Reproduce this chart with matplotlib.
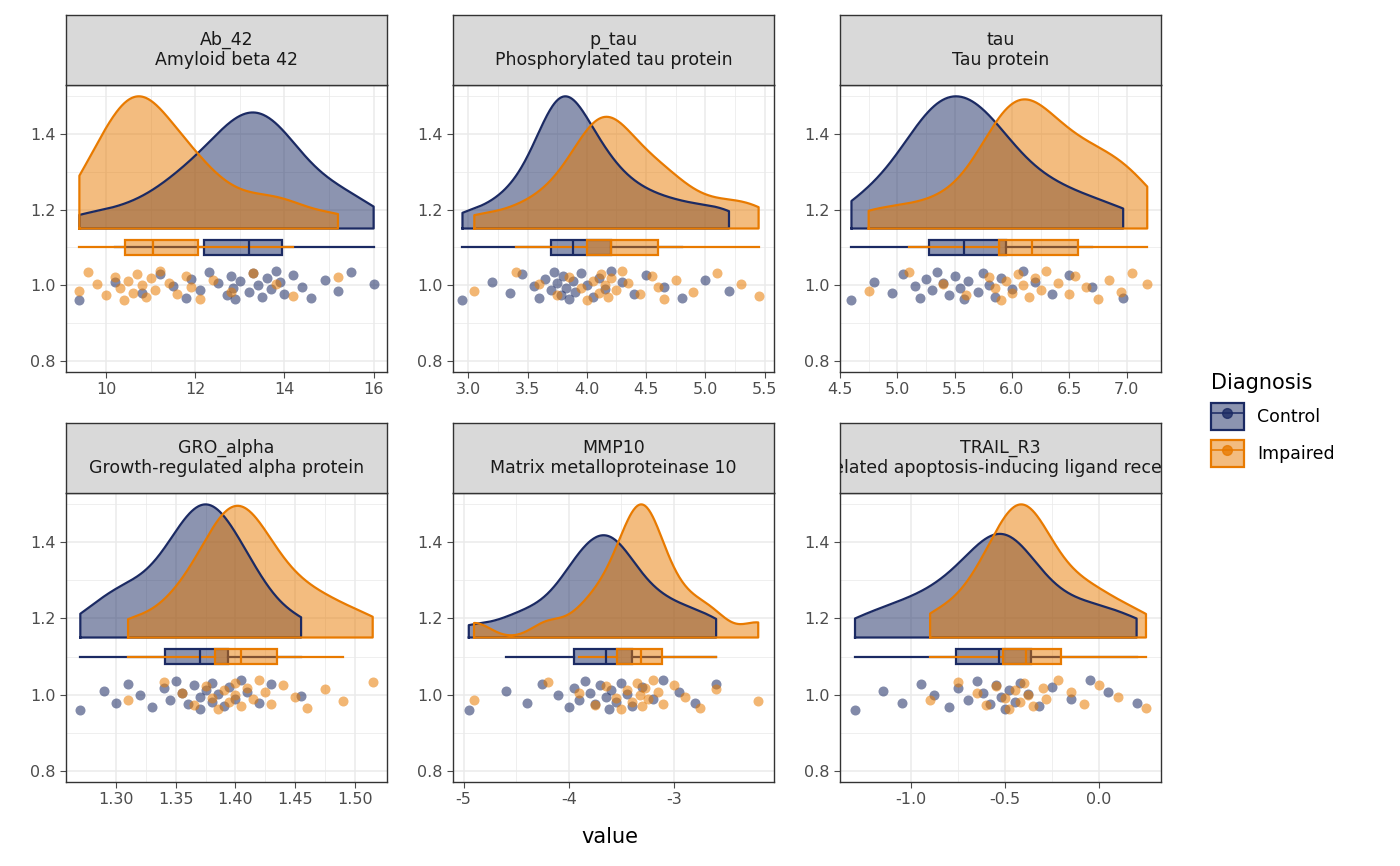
import numpy as np
import matplotlib
matplotlib.use("Agg")
import matplotlib.pyplot as plt
from matplotlib.patches import Patch
from matplotlib.lines import Line2D

facets = ["Ab_42\nAmyloid beta 42", "p_tau\nPhosphorylated tau protein", "tau\nTau protein",
          "GRO_alpha\nGrowth-regulated alpha protein", "MMP10\nMatrix metalloproteinase 10",
          "TRAIL_R3\nTNF-related apoptosis-inducing ligand receptor 3"]
control = [
 [9.4,10.2,10.8,11.2,11.5,11.8,11.9,12.1,12.3,12.5,12.7,12.8,12.85,12.9,13.0,13.2,13.3,13.4,13.5,13.6,13.7,13.8,13.9,14.0,14.2,14.4,14.6,14.9,15.2,15.5,16.0],
 [2.95,3.2,3.35,3.45,3.55,3.6,3.65,3.7,3.72,3.75,3.78,3.8,3.82,3.85,3.88,3.9,3.95,4.0,4.05,4.1,4.15,4.2,4.3,4.4,4.5,4.65,4.8,5.0,5.2],
 [4.6,4.8,4.95,5.05,5.15,5.2,5.25,5.3,5.35,5.4,5.45,5.5,5.55,5.58,5.62,5.7,5.75,5.8,5.85,5.9,6.0,6.1,6.2,6.35,6.5,6.7,6.97],
 [1.27,1.29,1.30,1.31,1.32,1.33,1.34,1.345,1.35,1.355,1.36,1.365,1.37,1.37,1.375,1.38,1.38,1.385,1.39,1.395,1.40,1.405,1.41,1.42,1.43,1.455],
 [-4.95,-4.6,-4.4,-4.25,-4.1,-4.0,-3.95,-3.9,-3.85,-3.8,-3.75,-3.7,-3.65,-3.62,-3.6,-3.55,-3.5,-3.45,-3.4,-3.3,-3.2,-3.1,-2.95,-2.8,-2.6],
 [-1.3,-1.15,-1.05,-0.95,-0.88,-0.8,-0.75,-0.7,-0.65,-0.62,-0.58,-0.55,-0.52,-0.5,-0.48,-0.45,-0.42,-0.38,-0.32,-0.25,-0.15,-0.05,0.05,0.2],
]
impaired = [
 [9.4,9.6,9.8,10.0,10.2,10.3,10.4,10.5,10.6,10.7,10.8,10.9,11.0,11.1,11.2,11.4,11.6,11.8,11.9,12.1,12.4,12.8,13.3,13.8,14.2,15.2],
 [3.05,3.4,3.6,3.75,3.85,3.95,4.0,4.05,4.1,4.12,4.15,4.18,4.2,4.25,4.3,4.35,4.45,4.55,4.6,4.65,4.75,4.9,5.1,5.3,5.45],
 [4.75,5.1,5.4,5.6,5.8,5.85,5.9,5.95,6.0,6.05,6.1,6.15,6.2,6.25,6.3,6.4,6.5,6.55,6.65,6.75,6.85,6.95,7.05,7.18],
 [1.31,1.34,1.355,1.365,1.375,1.38,1.385,1.39,1.395,1.40,1.40,1.405,1.41,1.415,1.42,1.425,1.43,1.44,1.45,1.46,1.475,1.49,1.515],
 [-4.9,-4.2,-3.9,-3.75,-3.65,-3.55,-3.5,-3.45,-3.4,-3.35,-3.32,-3.3,-3.28,-3.25,-3.2,-3.15,-3.1,-3.0,-2.9,-2.75,-2.6,-2.2],
 [-0.9,-0.75,-0.65,-0.6,-0.55,-0.5,-0.48,-0.45,-0.42,-0.4,-0.38,-0.35,-0.3,-0.28,-0.22,-0.15,-0.08,0.0,0.1,0.25],
]
xticks = [[10,12,14,16],[3.0,3.5,4.0,4.5,5.0,5.5],[4.5,5.0,5.5,6.0,6.5,7.0],
          [1.30,1.35,1.40,1.45,1.50],[-5,-4,-3],[-1.0,-0.5,0.0]]
xticklabels = [["10","12","14","16"],["3.0","3.5","4.0","4.5","5.0","5.5"],["4.5","5.0","5.5","6.0","6.5","7.0"],
               ["1.30","1.35","1.40","1.45","1.50"],["-5","-4","-3"],["-1.0","-0.5","0.0"]]
xlims = [(9.1,16.3),(2.87,5.58),(4.5,7.3),(1.258,1.527),(-5.1,-2.05),(-1.38,0.33)]
groups = ["Control","Impaired"]
colors = ["#1B2A63","#E87A00"]

def kde(v, grid):
    v = np.asarray(v); n = len(v)
    bw = 0.9*min(v.std(ddof=1), (np.percentile(v,75)-np.percentile(v,25))/1.34)*n**-0.2
    return np.exp(-0.5*((grid[:,None]-v[None,:])/bw)**2).sum(1)/(n*bw*np.sqrt(2*np.pi))

W, H = 1400, 866
fig = plt.figure(figsize=(14, 8.66), dpi=100)
lefts = [66, 453, 840]; pw = 321
tops = [85, 493]; ph = [287, 289]
for i in range(6):
    r, c = divmod(i, 3)
    x0 = lefts[c]; y0 = tops[r]
    ax = fig.add_axes([x0/W, 1-(y0+ph[r])/H, pw/W, ph[r]/H])
    sax = fig.add_axes([x0/W, 1-y0/H, pw/W, 70/H])
    sax.set_facecolor("#D9D9D9"); sax.set_xticks([]); sax.set_yticks([])
    for s in sax.spines.values(): s.set_color("#333333"); s.set_linewidth(1)
    sax.text(0.5, 0.5, facets[i], ha="center", va="center", fontsize=12.5, color="#1A1A1A",
             transform=sax.transAxes, clip_on=True, linespacing=1.1)
    data = [np.asarray(control[i]), np.asarray(impaired[i])]
    grids = [np.linspace(d.min(), d.max(), 300) for d in data]
    dens = [kde(d, g) for d, g in zip(data, grids)]
    m = max(d.max() for d in dens)
    for g, (d, gr, de) in enumerate(zip(data, grids, dens)):
        yy = 1.15 + 0.35*de/m
        ax.fill_between(gr, 1.15, yy, color=colors[g], alpha=0.5, lw=0, zorder=2)
        ax.plot(np.r_[gr[0], gr, gr[-1], gr[0]], np.r_[1.15, yy, 1.15, 1.15], color=colors[g], lw=1.6, zorder=3)
    for g, d in enumerate(data):
        bp = ax.boxplot([d], positions=[1.1], vert=False, widths=0.04, showfliers=False,
                        patch_artist=True, manage_ticks=False, whis=1.5)
        bp["boxes"][0].set(facecolor=matplotlib.colors.to_rgba(colors[g], 0.5), edgecolor=colors[g], lw=1.6)
        for k in bp["whiskers"]: k.set(color=colors[g], lw=1.6)
        for k in bp["caps"]: k.set(visible=False)
        for k in bp["medians"]: k.set(color=colors[g], lw=1.6)
    for g, d in enumerate(data):
        jit = ((np.arange(len(d))*0.618 + 0.31*g) % 1.0 - 0.5)*0.08
        ax.scatter(d, 1.0 + jit, s=52, color=colors[g], alpha=0.55, lw=0, zorder=4)
    ax.set_xlim(*xlims[i]); ax.set_ylim(0.77, 1.53)
    ax.set_yticks([0.8,1.0,1.2,1.4]); ax.set_yticklabels(["0.8","1.0","1.2","1.4"])
    ax.set_xticks(xticks[i]); ax.set_xticklabels(xticklabels[i])
    ax.set_xticks([(a+b)/2 for a, b in zip(xticks[i][:-1], xticks[i][1:])], minor=True)
    ax.set_yticks([0.9,1.1,1.3,1.5], minor=True)
    ax.grid(True, which="major", color="#EBEBEB", lw=1.1, zorder=0)
    ax.grid(True, which="minor", color="#EBEBEB", lw=0.55, zorder=0)
    ax.set_axisbelow(True)
    ax.tick_params(which="minor", length=0)
    ax.tick_params(which="major", labelsize=11.5, colors="#4D4D4D", length=4)
    for s in ax.spines.values(): s.set_color("#333333"); s.set_linewidth(1)

fig.text(610/W, 1-837/H, "value", ha="center", va="center", fontsize=15)
handles = [(Patch(facecolor=matplotlib.colors.to_rgba(c, 0.5), edgecolor=c, lw=1.6),
            Line2D([], [], color=c, lw=1.4, marker="o", markersize=7, alpha=0.8)) for c in colors]
fig.legend(handles, groups, title="Diagnosis", loc="upper left", bbox_to_anchor=(1195/W, 1-357/H),
           frameon=False, fontsize=12.5, title_fontsize=15, handlelength=1.9, handleheight=2.0,
           alignment="left", labelspacing=0.6)
fig.savefig("out.png", dpi=100)
